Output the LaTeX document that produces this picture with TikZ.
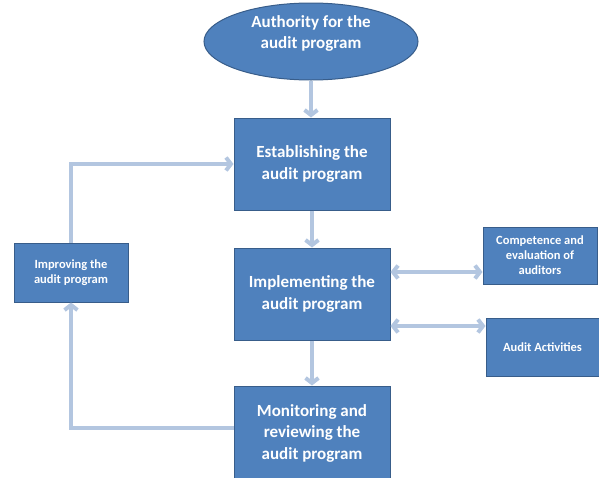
\documentclass[tikz,border=0pt]{standalone}
\usepackage{fontspec}
\setmainfont{Carlito}
\usetikzlibrary{arrows.meta,shapes.geometric}
\definecolor{boxfill}{HTML}{4F81BD}
\definecolor{boxline}{HTML}{385D8A}
\definecolor{arrcol}{HTML}{B3C6E0}
\begin{document}
\begin{tikzpicture}[x=1pt,y=-1pt,
  bigfont/.style={font=\bfseries\fontsize{17}{21.5}\selectfont},
  bigbox/.style={draw=boxline, line width=1pt, fill=boxfill, text=white,
    bigfont, align=center, inner sep=0pt,
    minimum width=156pt, minimum height=92pt},
  smallbox/.style={draw=boxline, line width=1pt, fill=boxfill, text=white,
    font=\bfseries\fontsize{12.5}{15}\selectfont, align=center, inner sep=0pt},
  flow/.style={draw=arrcol, line width=4pt, -{Straight Barb[length=5pt,width=13pt]}},
  flow2/.style={draw=arrcol, line width=4pt, {Straight Barb[length=5pt,width=13pt]}-{Straight Barb[length=5pt,width=13pt]}}]
\useasboundingbox (0,0) rectangle (599,477);
\clip (0,0) rectangle (599,477);
\node[ellipse, draw=boxline, line width=1pt, fill=boxfill, inner sep=0pt,
  minimum width=214pt, minimum height=77pt,
  label={[bigfont, text=white, align=center, yshift=8pt]center:{Authority for the\\audit program}}] (auth) at (311,41.5) {};
\node[bigbox] (est) at (312,164) {Establishing the\\audit program};
\node[bigbox] (imp) at (312,294) {Implementing the\\audit program};
\node[bigbox, minimum height=94pt] (mon) at (312,433) {Monitoring and\\reviewing the\\audit program};
\node[smallbox, minimum width=114pt, minimum height=59pt] (impr) at (71,272.5) {Improving the\\audit program};
\node[smallbox, minimum width=114pt, minimum height=57pt] (comp) at (540,255.5) {Competence and\\evaluation of\\auditors};
\node[smallbox, minimum width=113pt, minimum height=58pt] (act) at (542.5,347) {Audit Activities};
\draw[flow] (auth.south) -- (auth.south |- est.north);
\draw[flow] (est.south) -- (imp.north);
\draw[flow] (imp.south) -- (mon.north);
\draw[flow] (impr.north) |- (est.west);
\coordinate (m1) at ([yshift=5pt]mon.west);
\draw[flow] (m1) -| (impr.south);
\coordinate (a1) at ([yshift=22pt]imp.east);
\coordinate (a2) at ([yshift=-32pt]imp.east);
\draw[flow2] (a1) -- (a1 -| comp.west);
\draw[flow2] (a2) -- (a2 -| act.west);
\end{tikzpicture}
\end{document}
